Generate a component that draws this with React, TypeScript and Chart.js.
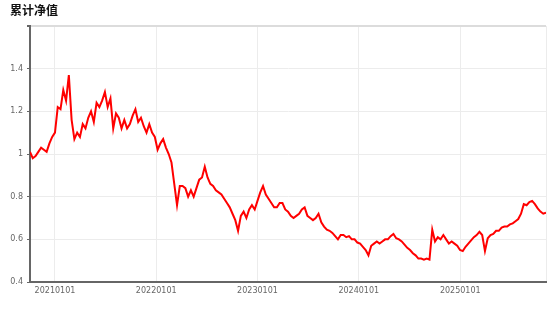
import { useEffect, useRef } from "react";
import { Chart, registerables } from "chart.js";

Chart.register(...registerables);

const TITLE = "累计净值";
const START_DATE = "2020-10-03";
const STEP_DAYS = 10;
const YEAR_TICKS = ["20210101", "20220101", "20230101", "20240101", "20250101"];
const Y_MIN = 0.4;
const Y_MAX = 1.6;
const Y_STEP = 0.2;

const NAV = [
  1.01, 0.98, 0.99, 1.01, 1.03, 1.02, 1.01, 1.05, 1.08, 1.10,
  1.22, 1.21, 1.30, 1.25, 1.37, 1.16, 1.07, 1.10, 1.08, 1.14,
  1.12, 1.17, 1.20, 1.15, 1.24, 1.22, 1.25, 1.29, 1.22, 1.26,
  1.12, 1.19, 1.17, 1.12, 1.16, 1.12, 1.14, 1.18, 1.21, 1.15,
  1.17, 1.13, 1.10, 1.14, 1.10, 1.08, 1.02, 1.05, 1.07, 1.03,
  1.00, 0.96, 0.86, 0.76, 0.85, 0.85, 0.84, 0.80, 0.83, 0.80,
  0.84, 0.88, 0.89, 0.94, 0.89, 0.86, 0.85, 0.83, 0.82, 0.81,
  0.79, 0.77, 0.75, 0.72, 0.69, 0.64, 0.71, 0.73, 0.70, 0.74,
  0.76, 0.74, 0.78, 0.82, 0.85, 0.81, 0.79, 0.77, 0.75, 0.75,
  0.77, 0.77, 0.74, 0.73, 0.71, 0.70, 0.71, 0.72, 0.74, 0.75,
  0.71, 0.70, 0.69, 0.70, 0.72, 0.68, 0.66, 0.645, 0.64, 0.63,
  0.615, 0.60, 0.62, 0.62, 0.61, 0.615, 0.60, 0.60, 0.585, 0.58,
  0.565, 0.55, 0.525, 0.57, 0.58, 0.59, 0.58, 0.59, 0.60, 0.60,
  0.615, 0.625, 0.605, 0.60, 0.59, 0.575, 0.56, 0.55, 0.535, 0.525,
  0.51, 0.51, 0.505, 0.51, 0.505, 0.645, 0.59, 0.61, 0.60, 0.62,
  0.60, 0.58, 0.59, 0.58, 0.57, 0.55, 0.545, 0.565, 0.58, 0.595,
  0.61, 0.62, 0.635, 0.62, 0.545, 0.605, 0.62, 0.625, 0.64, 0.64,
  0.655, 0.66, 0.66, 0.67, 0.675, 0.685, 0.695, 0.72, 0.765, 0.76,
  0.775, 0.78, 0.765, 0.745, 0.73, 0.72, 0.725,
];

const DAY_MS = 86400000;
const toDay = (ymd: string) => {
  const s = ymd.replace(/-/g, "");
  return Date.UTC(+s.slice(0, 4), +s.slice(4, 6) - 1, +s.slice(6, 8)) / DAY_MS;
};

export default function App() {
  const ref = useRef<HTMLCanvasElement | null>(null);

  useEffect(() => {
    if (!ref.current) return;
    const startDay = toDay(START_DATE);
    const points = NAV.map((v, i) => ({ x: startDay + i * STEP_DAYS, y: v }));
    const minDay = points[0].x;
    const maxDay = points[points.length - 1].x;
    const tickLabels = new Map<number, string>();
    YEAR_TICKS.forEach((t) => tickLabels.set(toDay(t), t));
    const font = { family: "'DejaVu Sans', sans-serif", size: 8 };

    const chart = new Chart(ref.current, {
      type: "line",
      data: {
        datasets: [
          {
            data: points,
            borderColor: "#ff0000",
            borderWidth: 2,
            pointRadius: 0,
            fill: false,
            tension: 0,
          },
        ],
      },
      options: {
        animation: false,
        responsive: false,
        layout: { padding: { left: 10, right: 8, top: 0, bottom: 11.4 } },
        plugins: {
          legend: { display: false },
          tooltip: { enabled: false },
          title: {
            display: true,
            text: TITLE,
            align: "start",
            color: "#111",
            font: { family: "'Noto Sans CJK SC', sans-serif", size: 12, weight: "bold" },
            padding: { top: 3, bottom: 8.6 },
          },
        },
        scales: {
          x: {
            type: "linear",
            min: minDay,
            max: maxDay,
            afterBuildTicks: (scale: any) => {
              scale.ticks = [...YEAR_TICKS.map(toDay), maxDay].map((v) => ({ value: v }));
            },
            ticks: {
              autoSkip: false,
              maxRotation: 0,
              minRotation: 0,
              padding: 4,
              color: "#666",
              font,
              callback: (v: any) => tickLabels.get(Number(v)) ?? "",
            },
            grid: { color: "#ececec", lineWidth: 1, drawTicks: false },
            border: { color: "#666", width: 2 },
          },
          y: {
            min: Y_MIN,
            max: Y_MAX,
            afterFit: (scale: any) => {
              scale.width = 20;
            },
            ticks: {
              stepSize: Y_STEP,
              padding: 4,
              color: "#666",
              font,
              callback: (v: any) => (Number(v) > Y_MAX - 0.01 ? "" : String(Math.round(Number(v) * 10) / 10)),
            },
            grid: {
              color: (ctx: any) => (ctx.tick && ctx.tick.value > Y_MAX - 0.01 ? "#dcdcdc" : "#ececec"),
              lineWidth: (ctx: any) => (ctx.tick && ctx.tick.value > Y_MAX - 0.01 ? 2 : 1),
              tickColor: "#666",
              tickLength: 3,
            },
            border: { color: "#666", width: 2 },
          },
        },
      },
    });
    return () => chart.destroy();
  }, []);

  return (
    <div style={{ position: "absolute", left: 0, top: 0, width: 554, height: 311, background: "#fff" }}>
      <canvas ref={ref} width={554} height={311} style={{ display: "block" }} />
    </div>
  );
}
